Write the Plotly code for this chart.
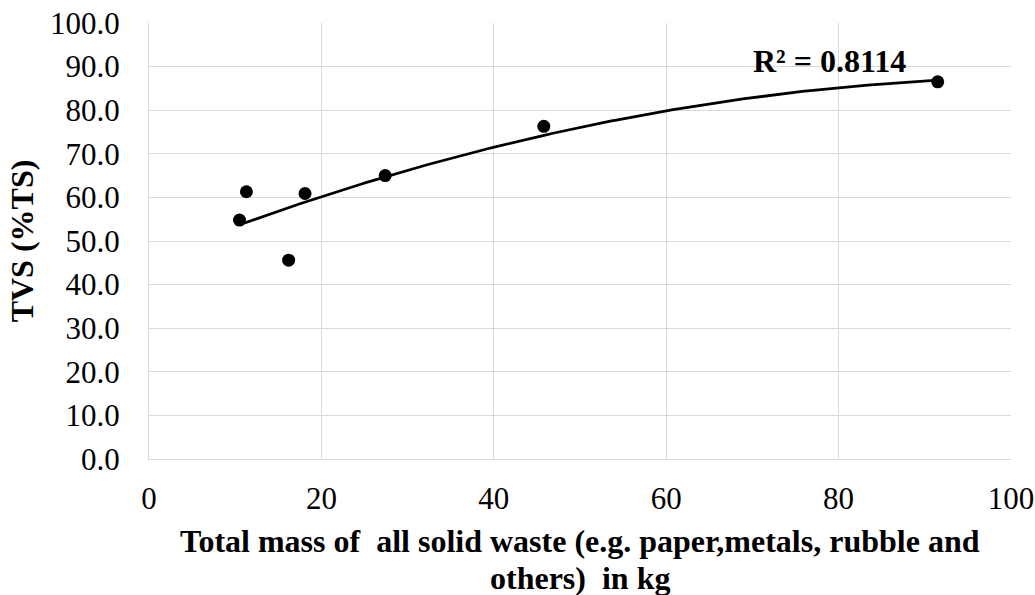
import numpy as np
import plotly.graph_objects as go

mass_kg = [10.5, 11.3, 16.2, 18.1, 27.4, 45.8, 91.5]
tvs_pct = [54.8, 61.3, 45.6, 60.9, 65.0, 76.3, 86.5]
x_ticks = [0, 20, 40, 60, 80, 100]
y_ticks = [0, 10, 20, 30, 40, 50, 60, 70, 80, 90, 100]
r2_label = "R² = 0.8114"
x_title_lines = ["Total mass of  all solid waste (e.g. paper,metals, rubble and", "others)  in kg"]
y_title = "TVS (%TS)"

coef = np.polyfit(mass_kg, tvs_pct, 2)
xt = np.linspace(min(mass_kg), max(mass_kg), 200)
yt = np.polyval(coef, xt)

font = "Liberation Serif"
fig = go.Figure()
fig.add_trace(go.Scatter(x=xt, y=yt, mode="lines",
                         line=dict(color="black", width=2.75), hoverinfo="skip"))
fig.add_trace(go.Scatter(x=mass_kg, y=tvs_pct, mode="markers",
                         marker=dict(color="black", size=13)))
fig.add_annotation(x=78.9, y=91.3, text="<b>" + r2_label + "</b>", showarrow=False,
                   font=dict(family=font, size=32, color="black"))
for i, line in enumerate(x_title_lines):
    fig.add_annotation(x=0.5, y=0, xref="paper", yref="paper", yanchor="middle",
                       yshift=-82 - 37 * i, text="<b>" + line + "</b>", showarrow=False,
                       font=dict(family=font, size=32, color="black"))

fig.update_layout(
    width=1035, height=595, showlegend=False,
    paper_bgcolor="white", plot_bgcolor="white",
    margin=dict(l=149, r=24, t=23, b=136),
    font=dict(family=font, color="black", size=31),
    xaxis=dict(range=[0, 100], tickvals=x_ticks, showgrid=True, gridcolor="#d9d9d9",
               gridwidth=1.3, zeroline=False, showline=True, linecolor="#d9d9d9",
               linewidth=1.3, ticks="", ticklabelstandoff=12, automargin=False,
               tickfont=dict(family=font, size=31)),
    yaxis=dict(range=[0, 100], tickvals=y_ticks, tickformat=".1f", showgrid=True,
               gridcolor="#d9d9d9", gridwidth=1.3, zeroline=False, showline=True,
               linecolor="#d9d9d9", linewidth=1.3, ticks="", ticklabelstandoff=22,
               automargin=False, tickfont=dict(family=font, size=31),
               title=dict(text="<b>" + y_title + "</b>", font=dict(family=font, size=32),
                          standoff=6)),
)
fig.write_html("out.html", config={"displayModeBar": False},
               post_script="document.body.style.margin='0';document.documentElement.style.overflow='hidden';")
